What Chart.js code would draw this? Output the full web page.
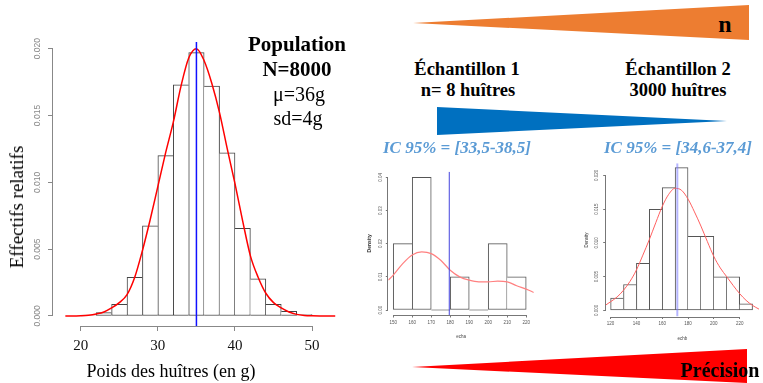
<!DOCTYPE html>
<html>
<head>
<meta charset="utf-8">
<script src="https://cdn.jsdelivr.net/npm/chart.js@4.4.1/dist/chart.umd.min.js"></script>
<style>
  body { margin:0; width:763px; height:383px; background:#fff; position:relative; overflow:hidden; font-family:'Liberation Serif', 'Times New Roman', serif; }
  canvas { position:absolute; z-index:1; }
  .t { position:absolute; transform:translate(-50%,-50%); white-space:nowrap; color:#000; z-index:2; }
  .b { font-weight:bold; }
  .ic { font-weight:bold; font-style:italic; color:#5b9bd5; font-size:17px; }
  .tri { position:absolute; left:0; top:0; width:763px; height:383px; z-index:0; }
</style>
</head>
<body>
<div class="tri" style="background:#ed7d31; clip-path:polygon(413px 23px, 749px 5px, 749px 40px)"></div>
<div class="tri" style="background:#0070c0; clip-path:polygon(437px 107px, 437px 135px, 727px 121px)"></div>
<div class="tri" style="background:#ff0000; clip-path:polygon(412px 367px, 747px 349px, 747px 383px)"></div>

<canvas id="popChart" width="360" height="383" style="left:0;top:0"></canvas>
<canvas id="ech1Chart" width="200" height="190" style="left:340px;top:160px"></canvas>
<canvas id="ech2Chart" width="193" height="200" style="left:570px;top:155px"></canvas>

<div class="t" style="left:17px;top:207px;font-size:19px;transform:translate(-50%,-50%) rotate(-90deg)">Effectifs relatifs</div>
<div class="t" style="left:171px;top:371px;font-size:18px">Poids des huîtres (en g)</div>
<div class="t b" style="left:297px;top:44px;font-size:21px">Population</div>
<div class="t b" style="left:297px;top:69px;font-size:21px">N=8000</div>
<div class="t" style="left:299px;top:94px;font-size:20px">μ=36g</div>
<div class="t" style="left:298px;top:118px;font-size:20px">sd=4g</div>

<div class="t b" style="left:725px;top:24px;font-size:24px">n</div>
<div class="t b" style="left:467px;top:69px;font-size:18.5px">Échantillon 1</div>
<div class="t b" style="left:468px;top:90px;font-size:18.5px">n= 8 huîtres</div>
<div class="t b" style="left:678px;top:69px;font-size:18.5px">Échantillon 2</div>
<div class="t b" style="left:678px;top:90px;font-size:18.5px">3000 huîtres</div>
<div class="t ic" style="left:457px;top:148px">IC 95% = [33,5-38,5]</div>
<div class="t ic" style="left:678px;top:148px">IC 95% = [34,6-37,4]</div>
<div class="t b" style="left:720px;top:370px;font-size:20px">Précision</div>

<script>
// population : 8000 huîtres
const popBins = [21, 23, 25, 27, 29, 31, 33, 35, 37, 39, 41, 43, 45, 47, 49];
const popFreq = [0.00005, 0.00025, 0.00088, 0.0029, 0.00675, 0.012, 0.0173, 0.0197, 0.0172, 0.0122, 0.00655, 0.00278, 0.00088, 0.00035, 0.0001];
const popCurveX = [18, 19, 20, 21, 22, 23, 24, 25, 26, 27, 28, 29, 30, 31, 32, 33, 34, 35, 36, 37, 38, 39, 40, 41, 42, 43, 44, 45, 46, 47, 48, 49, 50, 51, 52, 53];
const popCurveY = [0, 0, 0.00002, 0.00006, 0.00015, 0.0003, 0.0006, 0.001, 0.0016, 0.0029, 0.0049, 0.0072, 0.0097, 0.0122, 0.0145, 0.0172, 0.0193, 0.02, 0.0191, 0.0174, 0.0152, 0.0125, 0.0099, 0.0071, 0.0045, 0.0029, 0.0017, 0.001, 0.0006, 0.0003, 0.00012, 0.00004, 0.00001, 0, 0, 0];
const popMean = 35;
const popXTicks = [20, 30, 40, 50];
const popYTicks = [0, 0.005, 0.01, 0.015, 0.02];

// echantillon 1 : n = 8
const ech1Bins = [155, 165, 175, 185, 195, 205, 215];
const ech1Freq = [0.02, 0.04, 0, 0.01, 0, 0.02, 0.01];
const ech1CurveX = [147.4, 150, 155, 160, 165, 170, 175, 180, 185, 190, 195, 200, 205, 210, 215, 220, 224];
const ech1CurveY = [0.009, 0.0105, 0.014, 0.0166, 0.0175, 0.017, 0.015, 0.012, 0.01, 0.009, 0.0085, 0.0085, 0.0087, 0.0085, 0.0073, 0.0063, 0.0053];
const ech1Mean = 179.5;
const ech1XTicks = [150, 160, 170, 180, 190, 200, 210, 220];
const ech1YTicks = [0, 0.01, 0.02, 0.03, 0.04];

// echantillon 2 : n = 3000
const ech2Bins = [125, 135, 145, 155, 165, 175, 185, 195, 205, 215, 225];
const ech2Freq = [0.00185, 0.00385, 0.007, 0.015, 0.0182, 0.02115, 0.011, 0.011, 0.005, 0.005, 0.001];
const ech2CurveX = [116.2, 120, 125, 130, 135, 140, 145, 150, 155, 160, 165, 170, 175, 180, 185, 190, 195, 200, 205, 210, 215, 220, 225, 230, 235];
const ech2CurveY = [0.0008, 0.0013, 0.002, 0.003, 0.0043, 0.006, 0.0082, 0.0105, 0.013, 0.0154, 0.0172, 0.0181, 0.0178, 0.0165, 0.0146, 0.0125, 0.0102, 0.008, 0.0063, 0.005, 0.0037, 0.0025, 0.0015, 0.00075, 0.0002];
const ech2Mean = 171.7;
const ech2XTicks = [120, 140, 160, 180, 200, 220];
const ech2YTicks = [0, 0.005, 0.01, 0.015, 0.02];

// lignes d'axe facon R (du premier au dernier tick)
const rAxisLines = {
    id: 'rAxisLines',
    beforeDatasetsDraw(chart, args, opts) {
        const {ctx, chartArea, scales: {x, y}} = chart;
        ctx.save();
        ctx.strokeStyle = opts.color;
        ctx.lineWidth = 1;
        ctx.beginPath();
        const bx = Math.round(chartArea.bottom) + 0.5;
        ctx.moveTo(x.getPixelForValue(x.ticks[0].value), bx);
        ctx.lineTo(x.getPixelForValue(x.ticks[x.ticks.length - 1].value), bx);
        const ly = Math.round(chartArea.left) - 0.5;
        ctx.moveTo(ly, y.getPixelForValue(y.ticks[0].value));
        ctx.lineTo(ly, y.getPixelForValue(y.ticks[y.ticks.length - 1].value));
        ctx.stroke();
        ctx.restore();
    }
};

// un bord commun entre deux barres est trace par la plus haute
function sharedEdges(freq) {
    const last = freq.length - 1;
    return ctx => {
        const i = ctx.dataIndex;
        return {
            top: 1,
            bottom: 1,
            left: (i === 0 || freq[i - 1] < freq[i]) ? 1 : 0,
            right: (i === last || freq[i + 1] <= freq[i]) ? 1 : 0
        };
    };
}

function histChart(id, c) {
    return new Chart(document.getElementById(id), {
        type: 'bar',
        data: {
            datasets: [
                {
                    type: 'line',
                    data: [{x: c.mean, y: c.yMin}, {x: c.mean, y: c.yMax}],
                    borderColor: c.meanColor,
                    borderWidth: c.meanWidth,
                    pointRadius: 0,
                    order: 0
                },
                {
                    type: 'line',
                    data: c.curveX.map((x, i) => ({x: x, y: c.curveY[i]})),
                    borderColor: c.curveColor,
                    borderWidth: c.curveWidth,
                    pointRadius: 0,
                    cubicInterpolationMode: 'monotone',
                    order: 1
                },
                {
                    data: c.bins.map((x, i) => ({x: x, y: c.freq[i]})),
                    backgroundColor: '#ffffff',
                    borderColor: c.barColor,
                    borderSkipped: false,
                    borderWidth: sharedEdges(c.freq),
                    minBarLength: 1,
                    barPercentage: 1,
                    categoryPercentage: 1,
                    order: 2
                }
            ]
        },
        options: {
            responsive: false,
            animation: false,
            devicePixelRatio: 1,
            layout: {padding: {left: 0, top: c.padTop, right: c.padRight, bottom: 0}},
            plugins: {legend: {display: false}, tooltip: {enabled: false}, rAxisLines: {color: c.axisColor}},
            scales: {
                x: {
                    type: 'linear',
                    min: c.xMin,
                    max: c.xMax,
                    offset: false,
                    afterBuildTicks: s => { s.ticks = c.xTicks.map(v => ({value: v})); },
                    afterFit: s => { s.height = c.xAxisHeight; },
                    grid: {drawOnChartArea: false, offset: false, tickLength: c.tickLen, color: c.axisColor},
                    border: {display: false},
                    ticks: {autoSkip: false, maxRotation: 0, font: c.xTickFont, color: c.xTickColor, padding: c.xTickPad},
                    title: c.xTitle
                },
                y: {
                    min: c.yMin,
                    max: c.yMax,
                    afterBuildTicks: s => { s.ticks = c.yTicks.map(v => ({value: v})); },
                    afterFit: s => { s.width = c.yAxisWidth; },
                    grid: {drawOnChartArea: false, tickLength: c.tickLen, color: c.axisColor},
                    border: {display: false},
                    ticks: {
                        minRotation: 90, maxRotation: 90, crossAlign: 'center',
                        font: c.yTickFont, color: c.yTickColor, padding: c.yTickPad,
                        callback: v => v.toFixed(c.yDecimals)
                    },
                    title: c.yTitle
                }
            }
        },
        plugins: [rAxisLines]
    });
}

histChart('popChart', {
    bins: popBins, freq: popFreq, curveX: popCurveX, curveY: popCurveY, mean: popMean,
    xTicks: popXTicks, yTicks: popYTicks, yDecimals: 3,
    xMin: 16.4, xMax: 53.1, yMin: -0.00075, yMax: 0.0205,
    padTop: 42, padRight: 24, xAxisHeight: 57, yAxisWidth: 53, tickLen: 5,
    meanColor: '#1010ff', meanWidth: 1.5, curveColor: '#ff0000', curveWidth: 1.5, barColor: '#444', axisColor: '#888',
    xTickFont: {family: 'Liberation Serif', size: 15}, xTickColor: '#111', xTickPad: 6,
    yTickFont: {family: 'Liberation Sans', size: 8.5}, yTickColor: '#888', yTickPad: 0,
    xTitle: {display: false}, yTitle: {display: false}
});

const smallFont = {family: 'Liberation Sans', size: 4.5};

histChart('ech1Chart', {
    bins: ech1Bins, freq: ech1Freq, curveX: ech1CurveX, curveY: ech1CurveY, mean: ech1Mean,
    xTicks: ech1XTicks, yTicks: ech1YTicks, yDecimals: 2,
    xMin: 147.4, xMax: 224, yMin: -0.0015, yMax: 0.0417,
    padTop: 11.7, padRight: 6.2, xAxisHeight: 35, yAxisWidth: 48.3, tickLen: 2.5,
    meanColor: '#4444dd', meanWidth: 1, curveColor: '#ff8080', curveWidth: 1.2, barColor: '#555', axisColor: '#777',
    xTickFont: smallFont, xTickColor: '#555', xTickPad: 3,
    yTickFont: smallFont, yTickColor: '#555', yTickPad: 0.6,
    xTitle: {display: true, text: 'echa', font: smallFont, color: '#444', padding: 11},
    yTitle: {display: true, text: 'Density', font: {family: 'Liberation Sans', size: 5, weight: 'bold'}, color: '#333', padding: 27}
});

histChart('ech2Chart', {
    bins: ech2Bins, freq: ech2Freq, curveX: ech2CurveX, curveY: ech2CurveY, mean: ech2Mean,
    xTicks: ech2XTicks, yTicks: ech2YTicks, yDecimals: 3,
    xMin: 116.2, xMax: 235, yMin: -0.00089, yMax: 0.0218,
    padTop: 8.3, padRight: 4, xAxisHeight: 38.5, yAxisWidth: 35.7, tickLen: 2.5,
    meanColor: 'rgba(120,120,255,0.55)', meanWidth: 2, curveColor: '#ff6060', curveWidth: 1, barColor: '#555', axisColor: '#777',
    xTickFont: smallFont, xTickColor: '#555', xTickPad: 1.8,
    yTickFont: smallFont, yTickColor: '#555', yTickPad: 1,
    xTitle: {display: true, text: 'echb', font: smallFont, color: '#444', padding: 14},
    yTitle: {display: true, text: 'Density', font: smallFont, color: '#333', padding: 14.3}
});
</script>
</body>
</html>
